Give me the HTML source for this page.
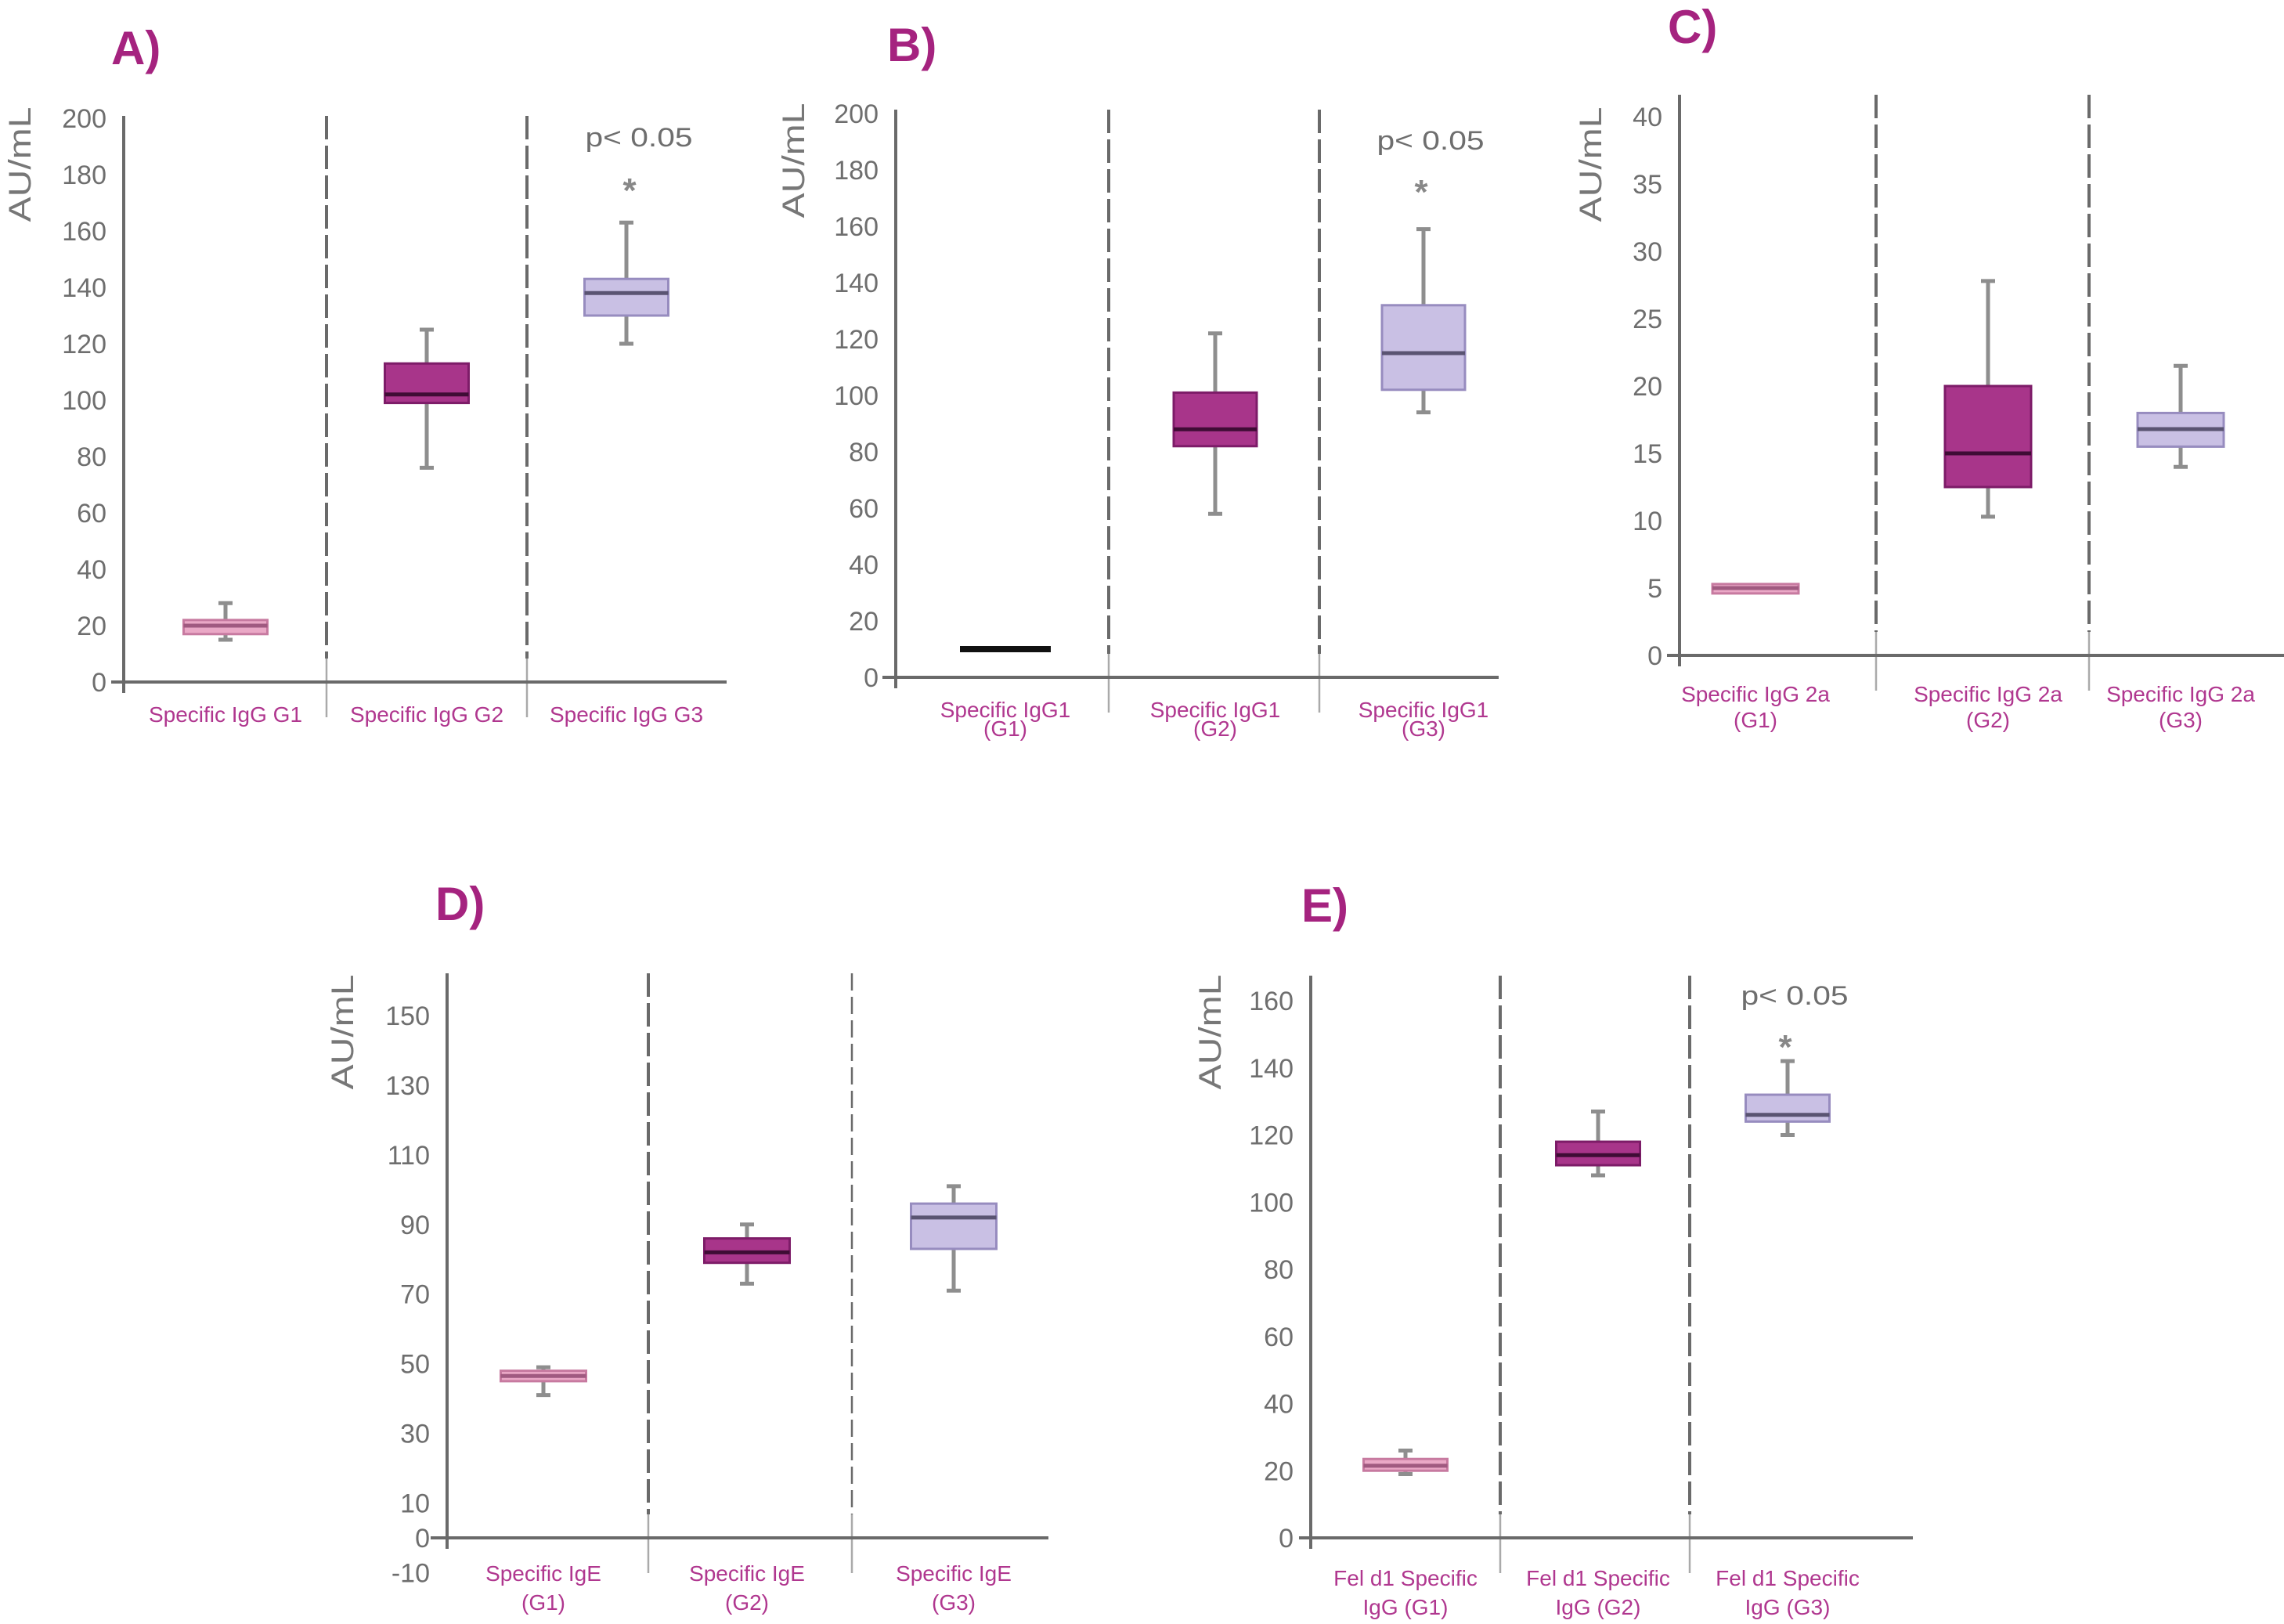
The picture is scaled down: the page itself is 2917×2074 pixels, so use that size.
<!DOCTYPE html>
<html><head><meta charset="utf-8"><style>
html,body{margin:0;padding:0;background:#fff;}
svg{display:block;font-family:"Liberation Sans",sans-serif;}
</style></head><body>
<svg id="fig" width="2917" height="2074" viewBox="0 0 2917 2074" xmlns="http://www.w3.org/2000/svg"></svg>
<script>
// ---- data (min, q1, median, q3, max) per group ----
const groupsA = ["G1","G2","G3"];
const aMin=[15,76,120], aQ1=[17,99,130], aMed=[20,102,138], aQ3=[22,113,143], aMax=[28,125,163];
const bMin=[10,58,94], bQ1=[10,82,102], bMed=[10,88,115], bQ3=[10,101,132], bMax=[10,122,159];
const cMin=[5,10.3,14], cQ1=[4.6,12.5,15.5], cMed=[5,15,16.8], cQ3=[5.3,20,18], cMax=[5,27.8,21.5];
const dMin=[41,73,71], dQ1=[45,79,83], dMed=[46.5,82,92], dQ3=[48,86,96], dMax=[49,90,101];
const eMin=[19,108,120], eQ1=[20,111,124], eMed=[21.5,114,126], eQ3=[23.5,118,132], eMax=[26,127,142];
const ticksA=[0,20,40,60,80,100,120,140,160,180,200];
const ticksB=[0,20,40,60,80,100,120,140,160,180,200];
const ticksC=[0,5,10,15,20,25,30,35,40];
const ticksD=[-10,0,10,30,50,70,90,110,130,150];
const ticksE=[0,20,40,60,80,100,120,140,160];
const labelsA=[["Specific IgG G1"],["Specific IgG G2"],["Specific IgG G3"]];
const labelsB=[["Specific IgG1","(G1)"],["Specific IgG1","(G2)"],["Specific IgG1","(G3)"]];
const labelsC=[["Specific IgG 2a","(G1)"],["Specific IgG 2a","(G2)"],["Specific IgG 2a","(G3)"]];
const labelsD=[["Specific IgE","(G1)"],["Specific IgE","(G2)"],["Specific IgE","(G3)"]];
const labelsE=[["Fel d1 Specific","IgG (G1)"],["Fel d1 Specific","IgG (G2)"],["Fel d1 Specific","IgG (G3)"]];

const NS="http://www.w3.org/2000/svg";
const svg=document.getElementById('fig');
function mk(tag,attrs,parent,txt){const e=document.createElementNS(NS,tag);for(const k in attrs)e.setAttribute(k,attrs[k]);if(txt!==undefined)e.textContent=txt;(parent||svg).appendChild(e);return e;}

const fills=[{f:"#eaa8c6",s:"#c77aa0",m:"#a05a80"},{f:"#a8358a",s:"#7d1c68",m:"#3f0c35"},{f:"#c9c0e4",s:"#978cbf",m:"#5a5472"}];

const panels=[
 {id:"a",title:"A)",tx:142,ty:60,ax:158,y0:871,vTop:200,yTop:151,axTop:148,xs:142,xe:928,div:[417,673],cx:[288,545,800],bw:107,ticks:ticksA,labels:labelsA,ly:[912],yt:[26,210],p:[816,175,236],
  mn:aMin,q1:aQ1,md:aMed,q3:aQ3,mx:aMax},
 {id:"b",title:"B)",tx:1133,ty:56,ax:1144,y0:865,vTop:200,yTop:145,axTop:140,xs:1127,xe:1914,div:[1416,1685],cx:[1284,1552,1818],bw:106,ticks:ticksB,labels:labelsB,ly:[906,930],yt:[1014,205],p:[1827,179,238],
  mn:bMin,q1:bMed,md:bMed,q3:bQ3,mx:bMax,lineG1:true},
 {id:"c",title:"C)",tx:2130,ty:33,ax:2145,y0:837,vTop:40,yTop:149,axTop:121,xs:2129,xe:2917,div:[2396,2668],cx:[2242,2539,2785],bw:110,ticks:ticksC,labels:labelsC,ly:[886,919],yt:[2032,210],p:null,
  mn:cMin,q1:cQ1,md:cMed,q3:cQ3,mx:cMax},
 {id:"d",title:"D)",tx:556,ty:1153,ax:571,y0:1964,vTop:150,yTop:1297,axTop:1243,xs:550,xe:1339,div:[828,1088],cx:[694,954,1218],bw:109,ticks:ticksD,labels:labelsD,ly:[2009,2046],yt:[438,1318],p:null,
  mn:dMin,q1:dQ1,md:dMed,q3:dQ3,mx:dMax,thinDiv2:true},
 {id:"e",title:"E)",tx:1662,ty:1155,ax:1674,y0:1964,vTop:160,yTop:1278,axTop:1246,xs:1659,xe:2443,div:[1916,2158],cx:[1795,2041,2283],bw:107,ticks:ticksE,labels:labelsE,ly:[2015,2052],yt:[1546,1318],p:[2292,1271,1330],
  mn:eMin,q1:eQ1,md:eMed,q3:eQ3,mx:eMax}
];
panels[1].q1=bQ1;

panels.forEach(P=>{
  const g=mk('g',{});
  
  
  const y=v=>P.y0-(v/P.vTop)*(P.y0-P.yTop);
  const t=mk('text',{x:P.tx,y:P.ty+22,'font-size':60,'font-weight':'bold',fill:'#a5237f'},g,P.title);
  
  
  const yt=mk('text',{x:P.yt[0],y:P.yt[1],'font-size':40,fill:'#777','text-anchor':'middle',transform:`rotate(-90 ${P.yt[0]} ${P.yt[1]})`,dy:13,textLength:147,lengthAdjust:'spacingAndGlyphs'},g,'AU/mL');
  
  
  P.div.forEach((dx,i)=>{
    const dl=mk('line',{x1:dx,y1:P.axTop,x2:dx,y2:P.y0-30,stroke:'#6a6a6a','stroke-width':(P.thinDiv2&&i===1)?2.5:4,'stroke-dasharray':(P.thinDiv2&&i===1)?'22 8':'30 8'},g);
    
    
    const dl2=mk('line',{x1:dx,y1:P.y0-30,x2:dx,y2:P.y0+45,stroke:'#aaa','stroke-width':2.5},g);
    
    
  });
  const ya=mk('line',{x1:P.ax,y1:P.axTop,x2:P.ax,y2:P.y0+14,stroke:'#6a6a6a','stroke-width':4},g);
  
  
  const xa=mk('line',{x1:P.xs,y1:P.y0,x2:P.xe,y2:P.y0,stroke:'#6a6a6a','stroke-width':4},g);
  
  
  P.ticks.forEach(v=>{
    const tl=mk('text',{x:P.ax-22,y:y(v)+12,'font-size':34,fill:'#6e6e6e','text-anchor':'end'},g,String(v));
    
    
  });
  P.labels.forEach((lines,i)=>{
    lines.forEach((s,j)=>{
      const cl=mk('text',{x:P.cx[i],y:P.ly[j]+10,'font-size':28,fill:'#b0378f','text-anchor':'middle'},g,s);
      
      
    });
  });
  for(let i=0;i<3;i++){
    const c=fills[i], cx=P.cx[i], hw=P.bw/2;
    if(P.lineG1&&i===0){
      const bl=mk('line',{x1:cx-58,y1:y(P.md[i]),x2:cx+58,y2:y(P.md[i]),stroke:'#111','stroke-width':8},g);
      
      
      continue;
    }
    if(P.mx[i]>P.q3[i]){
      const w=mk('line',{x1:cx,y1:y(P.mx[i]),x2:cx,y2:y(P.q3[i]),stroke:'#8e8e8e','stroke-width':5},g);
      
      
      const cp=mk('line',{x1:cx-9,y1:y(P.mx[i]),x2:cx+9,y2:y(P.mx[i]),stroke:'#8e8e8e','stroke-width':5},g);
      
      
    }
    if(P.mn[i]<P.q1[i]){
      const w=mk('line',{x1:cx,y1:y(P.mn[i]),x2:cx,y2:y(P.q1[i]),stroke:'#8e8e8e','stroke-width':5},g);
      
      
      const cp=mk('line',{x1:cx-9,y1:y(P.mn[i]),x2:cx+9,y2:y(P.mn[i]),stroke:'#8e8e8e','stroke-width':5},g);
      
      
    }
    const r=mk('rect',{x:cx-hw,y:y(P.q3[i]),width:P.bw,height:Math.max(4,y(P.q1[i])-y(P.q3[i])),fill:c.f,stroke:c.s,'stroke-width':3},g);
    
    
    const m=mk('line',{x1:cx-hw,y1:y(P.md[i]),x2:cx+hw,y2:y(P.md[i]),stroke:c.m,'stroke-width':5},g);
    
    
  }
  if(P.p){
    const pt=mk('text',{x:P.p[0],y:P.p[1]+12,'font-size':34,fill:'#6e6e6e','text-anchor':'middle',textLength:137,lengthAdjust:'spacingAndGlyphs'},g,'p< 0.05');
    
    
    const as=mk('text',{x:P.p[0]-12,y:P.p[2]+22,'font-size':44,'font-weight':'bold',fill:'#888','text-anchor':'middle'},g,'*');
    
    
  }
});
</script>
</body></html>
